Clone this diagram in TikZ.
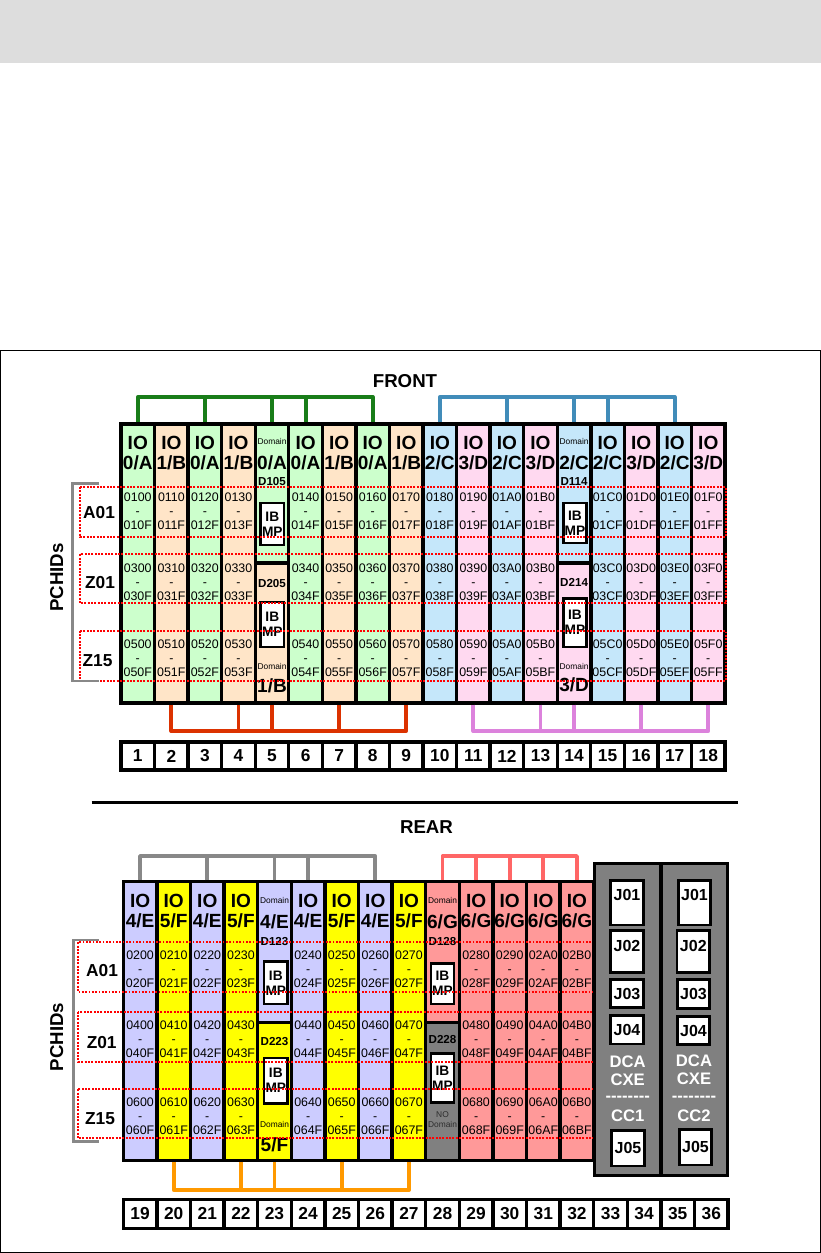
\documentclass[tikz,border=0pt]{standalone}
\usepackage{fontspec}
\setmainfont{Liberation Sans}
\newcommand\dashline{-\kern0pt-\kern0pt-\kern0pt-\kern0pt-\kern0pt-\kern0pt-\kern0pt-}
\begin{document}
\begin{tikzpicture}[x=0.75pt,y=0.75pt,yscale=-1,xscale=1,
  slot/.style={draw, line width=2.5pt, minimum width=25.2pt, inner sep=0pt},
  fillA/.style={fill={rgb, 255:red, 204; green, 255; blue, 204}},
  fillB/.style={fill={rgb, 255:red, 255; green, 229; blue, 200}},
  fillC/.style={fill={rgb, 255:red, 197; green, 231; blue, 250}},
  fillD/.style={fill={rgb, 255:red, 255; green, 217; blue, 240}},
  fillE/.style={fill={rgb, 255:red, 204; green, 204; blue, 255}},
  fillF/.style={fill={rgb, 255:red, 255; green, 255; blue, 0}},
  fillG/.style={fill={rgb, 255:red, 255; green, 153; blue, 153}},
  fillX/.style={fill={rgb, 255:red, 128; green, 128; blue, 128}},
  iohead/.style={font=\bfseries\fontsize{14.3}{15}\selectfont, align=center, inner sep=0pt},
  pchid/.style={font=\fontsize{9.3}{10.3}\selectfont, align=center, inner sep=0pt},
  dom/.style={font=\fontsize{6.3}{7.5}\selectfont, align=center, inner sep=0pt},
  dname/.style={font=\bfseries\fontsize{8.7}{9}\selectfont, inner sep=0pt},
  ibmp/.style={draw, fill=white, line width=1.8pt, font=\bfseries\fontsize{10.3}{11.2}\selectfont, align=center, minimum width=17.5pt, inner sep=0pt},
  rowlbl/.style={font=\bfseries\fontsize{13}{14}\selectfont, inner sep=0pt},
  title/.style={font=\bfseries\fontsize{14}{15}\selectfont, inner sep=0pt},
  numbox/.style={draw, fill=white, line width=2.5pt, minimum width=25.2pt, font=\bfseries\fontsize{13}{14}\selectfont, inner sep=0pt},
  cage/.style={draw, fillX, line width=2.5pt, minimum width=50pt, minimum height=234.3pt, inner sep=0pt},
  jbox/.style={draw, fill=white, line width=2pt, minimum width=24.4pt, font=\bfseries\fontsize{12}{13}\selectfont, inner sep=0pt},
  cagetxt/.style={text=white, font=\bfseries\fontsize{12.5}{13.2}\selectfont, align=center, inner sep=0pt},
  rowbox/.style={draw=red, line width=1.5pt, dash pattern=on 1.4pt off 1.1pt},
  bus/.style={line width=2.9pt, line join=round},
  busA/.style={draw={rgb, 255:red, 25; green, 125; blue, 25}},
  busB/.style={draw={rgb, 255:red, 220; green, 50; blue, 0}},
  busC/.style={draw={rgb, 255:red, 65; green, 140; blue, 185}},
  busD/.style={draw={rgb, 255:red, 220; green, 130; blue, 220}},
  busE/.style={draw={rgb, 255:red, 136; green, 136; blue, 136}},
  busF/.style={draw={rgb, 255:red, 255; green, 153; blue, 0}},
  busG/.style={draw={rgb, 255:red, 255; green, 102; blue, 102}},
  side/.style={draw={rgb, 255:red, 136; green, 136; blue, 136}, line width=2pt}]
\useasboundingbox (0,0) rectangle (821,1253);

%Shape: top band
\fill[fill={rgb, 255:red, 221; green, 221; blue, 221}] (0,0) rectangle (821,63.3);
%Shape: frame
\draw[line width=0.75pt] (0.5,350.5) rectangle (820.3,1252.5);

% Text Node
\node[title] (front) at (405,381) {FRONT};
\node[title] (rear) at (426.5,826.7) {REAR};
%Straight Lines: separator
\draw[line width=2.3pt] (91.7,802.3) -- (738,802.3);

%Front slots
\foreach \sl/\pn/\cl/\hx in {1/0/A/0,2/1/B/1,3/0/A/2,4/1/B/3,6/0/A/4,7/1/B/5,8/0/A/6,9/1/B/7,10/2/C/8,11/3/D/9,12/2/C/A,13/3/D/B,15/2/C/C,16/3/D/D,17/2/C/E,18/3/D/F}
  \node[slot, fill\cl, minimum height=209.25pt] (s\sl) at ({121+33.56*(\sl-0.5)},563.5) {};
\node[slot, fillA, minimum height=104.25pt] (s5) at (272,493.5) {};
\node[slot, fillB, minimum height=105pt] (s5-low) at (272,633) {};
\node[slot, fillC, minimum height=104.25pt] (s14) at (574.1,493.5) {};
\node[slot, fillD, minimum height=105pt] (s14-low) at (574.1,633) {};

\foreach \sl/\pn/\cl/\hx in {1/0/A/0,2/1/B/1,3/0/A/2,4/1/B/3,6/0/A/4,7/1/B/5,8/0/A/6,9/1/B/7,10/2/C/8,11/3/D/9,12/2/C/A,13/3/D/B,15/2/C/C,16/3/D/D,17/2/C/E,18/3/D/F}{
  \node[iohead] (s\sl-io) at (s\sl.center |- 0,453) {IO\\\pn/\cl};
  \node[pchid] (s\sl-a01) at (s\sl.center |- 0,511) {01\hx0\\-\\01\hx F};
  \node[pchid] (s\sl-z01) at (s\sl.center |- 0,582) {03\hx0\\-\\03\hx F};
  \node[pchid] (s\sl-z15) at (s\sl.center |- 0,658) {05\hx0\\-\\05\hx F};
}

% Text Node: domain slot 5
\node[dom] (s5-dom) at (272,441.7) {Domain};
\node[iohead] (s5-io) at (272,463) {0/A};
\node[dname] (s5-d1) at (272,481.7) {D105};
\node[ibmp, minimum height=31.5pt] (s5-ib1) at (272.3,524) {IB\\MP};
\node[dname] (s5-d2) at (272,583) {D205};
\node[ibmp, minimum height=33.75pt] (s5-ib2) at (272.3,624.5) {IB\\MP};
\node[dom] (s5-dom2) at (272,666) {Domain};
\node[iohead] (s5-io2) at (272,686) {1/B};
% Text Node: domain slot 14
\node[dom] (s14-dom) at (574.1,441.7) {Domain};
\node[iohead] (s14-io) at (574.1,463) {2/C};
\node[dname] (s14-d1) at (574.1,481.7) {D114};
\node[ibmp, minimum height=30.3pt] (s14-ib1) at (575,523) {IB\\MP};
\node[dname] (s14-d2) at (574.1,582.7) {D214};
\node[ibmp, minimum height=36.3pt] (s14-ib2) at (575,622.5) {IB\\MP};
\node[dom] (s14-dom2) at (574.1,666) {Domain};
\node[iohead] (s14-io2) at (574.1,685) {3/D};

%Front PCHID rows
\draw[rowbox] (80,487) rectangle (726,537);
\draw[rowbox] (80,554.3) rectangle (726,603.3);
\draw[rowbox] (80,630.7) rectangle (726,680.7);
\node[rowlbl] (fa01) at (99,512.7) {A01};
\node[rowlbl] (fz01) at (100,583) {Z01};
\node[rowlbl] (fz15) at (97.5,660.7) {Z15};
\draw[side] (99.3,483.3) -- (72.7,483.3) -- (72.7,681) -- (99.3,681);
\node[title, rotate=90] (fpchid) at (56.7,577.5) {PCHIDs};

%Front buses
\coordinate (fbus-top) at (0,397);
\coordinate (fbus-bot) at (0,731);
\draw[bus, busA] (s1.north) -- (s1.north |- fbus-top) -- (s8.north |- fbus-top) -- (s8.north);
\foreach \k in {s3,s5,s6} \draw[bus, busA] (\k.north) -- (\k.north |- fbus-top);
\draw[bus, busC] (s10.north) -- (s10.north |- fbus-top) -- (s17.north |- fbus-top) -- (s17.north);
\foreach \k in {s12,s14,s15} \draw[bus, busC] (\k.north) -- (\k.north |- fbus-top);
\draw[bus, busB] (s2.south) -- (s2.south |- fbus-bot) -- (s9.south |- fbus-bot) -- (s9.south);
\foreach \k in {s4,s5-low,s7} \draw[bus, busB] (\k.south) -- (\k.south |- fbus-bot);
\draw[bus, busD] (s11.south) -- (s11.south |- fbus-bot) -- (s18.south |- fbus-bot) -- (s18.south);
\foreach \k in {s13,s14-low,s16} \draw[bus, busD] (\k.south) -- (\k.south |- fbus-bot);

%Front slot numbers
\foreach \k in {1,...,18}
  \node[numbox, minimum height=21pt] (n\k) at ({121+33.56*(\k-0.5)},756) {\k};

%Rear slots
\foreach \sl/\pn/\cl/\hx in {19/4/E/0,20/5/F/1,21/4/E/2,22/5/F/3,24/4/E/4,25/5/F/5,26/4/E/6,27/5/F/7,29/6/G/8,30/6/G/9,31/6/G/A,32/6/G/B}
  \node[slot, fill\cl, minimum height=209.25pt] (s\sl) at ({123.3+33.6*(\sl-18.5)},1021.2) {};
\node[slot, fillE, minimum height=105.75pt] (s23) at (274.5,952.2) {};
\node[slot, fillF, minimum height=103.5pt] (s23-low) at (274.5,1091.7) {};
\node[slot, fillG, minimum height=105.75pt] (s28) at (442.5,952.2) {};
\node[slot, fillX, minimum height=103.5pt] (s28-low) at (442.5,1091.7) {};

\foreach \sl/\pn/\cl/\hx in {19/4/E/0,20/5/F/1,21/4/E/2,22/5/F/3,24/4/E/4,25/5/F/5,26/4/E/6,27/5/F/7,29/6/G/8,30/6/G/9,31/6/G/A,32/6/G/B}{
  \node[iohead] (s\sl-io) at (s\sl.center |- 0,911) {IO\\\pn/\cl};
  \node[pchid] (s\sl-a01) at (s\sl.center |- 0,969) {02\hx0\\-\\02\hx F};
  \node[pchid] (s\sl-z01) at (s\sl.center |- 0,1039) {04\hx0\\-\\04\hx F};
  \node[pchid] (s\sl-z15) at (s\sl.center |- 0,1116) {06\hx0\\-\\06\hx F};
}

% Text Node: domain slot 23
\node[dom] (s23-dom) at (274.5,900) {Domain};
\node[iohead] (s23-io) at (274.5,921.7) {4/E};
\node[dname] (s23-d1) at (274.5,941.7) {D123};
\node[ibmp, minimum height=31.7pt] (s23-ib1) at (275.8,982.8) {IB\\MP};
\node[dname] (s23-d2) at (274.5,1041.7) {D223};
\node[ibmp, minimum height=34.2pt] (s23-ib2) at (275.8,1080.5) {IB\\MP};
\node[dom] (s23-dom2) at (274.5,1124) {Domain};
\node[iohead] (s23-io2) at (274.5,1145) {5/F};
% Text Node: domain slot 28
\node[dom] (s28-dom) at (442.5,900) {Domain};
\node[iohead] (s28-io) at (442.5,921.7) {6/G};
\node[dname] (s28-d1) at (442.5,941.7) {D128};
\node[ibmp, minimum height=30.5pt] (s28-ib1) at (442.5,983.7) {IB\\MP};
\node[dname] (s28-d2) at (442.5,1039.3) {D228};
\node[ibmp, minimum height=36.75pt] (s28-ib2) at (442.5,1077.8) {IB\\MP};
\node[dom, text={rgb, 255:red, 45; green, 45; blue, 45}] (s28-nodom) at (442.5,1119.5) {NO\\Domain};

%Rear PCHID rows
\draw[rowbox] (78,942.3) rectangle (593.5,991.7);
\draw[rowbox] (78,1011.7) rectangle (593.5,1061.7);
\draw[rowbox] (78,1089.3) rectangle (593.5,1138.3);
\node[rowlbl] (ra01) at (102,971) {A01};
\node[rowlbl] (rz01) at (101.7,1042.3) {Z01};
\node[rowlbl] (rz15) at (100,1119) {Z15};
\draw[side] (99,940) -- (73.3,940) -- (73.3,1141.7) -- (99,1141.7);
\node[title, rotate=90] (rpchid) at (56.7,1037) {PCHIDs};

%Rear buses
\coordinate (rbus-top) at (0,856);
\coordinate (rbus-bot) at (0,1190);
\draw[bus, busE] (s19.north) -- (s19.north |- rbus-top) -- (s26.north |- rbus-top) -- (s26.north);
\foreach \k in {s21,s23,s24} \draw[bus, busE] (\k.north) -- (\k.north |- rbus-top);
\draw[bus, busG] (s28.north) -- (s28.north |- rbus-top) -- (s32.north |- rbus-top) -- (s32.north);
\foreach \k in {s29,s30,s31} \draw[bus, busG] (\k.north) -- (\k.north |- rbus-top);
\draw[bus, busF] (s20.south) -- (s20.south |- rbus-bot) -- (s27.south |- rbus-bot) -- (s27.south);
\foreach \k in {s22,s23-low,s25} \draw[bus, busF] (\k.south) -- (\k.south |- rbus-bot);

%Rear cages
\node[cage] (cage1) at (627.7,1019.5) {};
\node[cage] (cage2) at (694.3,1019.5) {};
\node[jbox, minimum height=33.2pt, text depth=12pt] (c1-j01) at (627,902.9) {J01};
\node[jbox, minimum height=31.5pt, text depth=9pt] (c1-j02) at (627,951.7) {J02};
\node[jbox, minimum height=21.3pt] (c1-j03) at (627,993.5) {J03};
\node[jbox, minimum height=21.2pt] (c1-j04) at (627,1029.9) {J04};
\node[jbox, minimum height=26.5pt] (c1-j05) at (628,1148.4) {J05};
\node[jbox, minimum height=33.2pt, text depth=12pt] (c2-j01) at (694.5,902.9) {J01};
\node[jbox, minimum height=31.5pt, text depth=9pt] (c2-j02) at (693.3,951.7) {J02};
\node[jbox, minimum height=21.3pt] (c2-j03) at (693.5,994) {J03};
\node[jbox, minimum height=21.2pt] (c2-j04) at (693.5,1030.5) {J04};
\node[jbox, minimum height=26.5pt] (c2-j05) at (695.5,1147.2) {J05};
\node[cagetxt] (c1-dca) at (627.7,1070.5) {DCA\\CXE};
\node[cagetxt] (c1-sep) at (627.7,1099) {\dashline};
\node[cagetxt] (c1-cc) at (627.7,1116) {CC1};
\node[cagetxt] (c2-dca) at (694,1070) {DCA\\CXE};
\node[cagetxt] (c2-sep) at (694,1098.5) {\dashline};
\node[cagetxt] (c2-cc) at (694,1115.5) {CC2};

%Rear slot numbers
\foreach \k in {19,...,36}
  \node[numbox, minimum height=21.75pt] (n\k) at ({123.3+33.6*(\k-18.5)},1213.8) {\k};
\end{tikzpicture}
\end{document}
